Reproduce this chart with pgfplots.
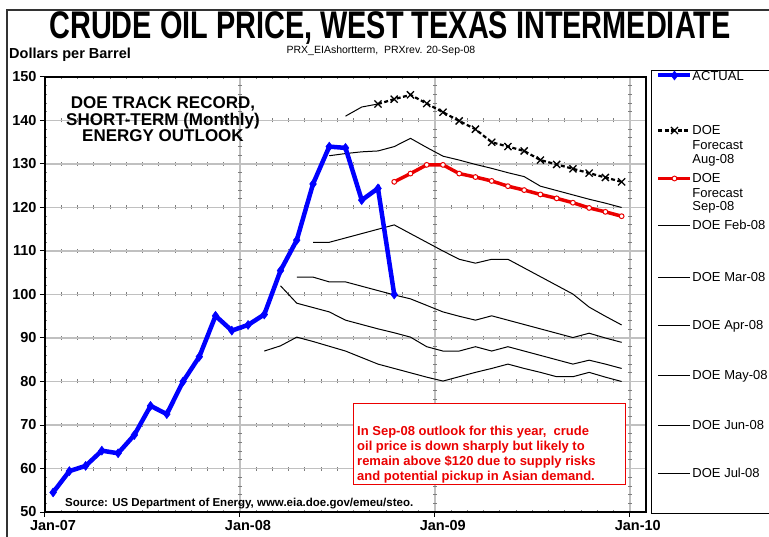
\documentclass[border=0pt]{standalone}
\usepackage{pgfplots}
\pgfplotsset{compat=1.18}
\usepackage{fontspec}
\setmainfont{Liberation Sans}
\setsansfont{Liberation Sans}

\definecolor{gridgray}{RGB}{192,192,192}
\definecolor{markgray}{RGB}{125,125,125}
\definecolor{xred}{RGB}{235,0,0}
\definecolor{xblue}{RGB}{0,0,255}

% legend image with an invisible extent above/below, so each row gets its own height
\pgfplotsset{limg/.style 2 args={legend image code/.code={%
  \path[draw=none, fill=none] (0pt,#1pt) -- (0pt,-#2pt);
  \draw[mark repeat=2,mark phase=2] plot coordinates {(0pt,0pt) (16pt,0pt) (32pt,0pt)};}}}
\newcommand{\legtext}[1]{\raisebox{-4.5pt}{#1}}
\newcommand{\threel}[3]{\parbox[t]{70pt}{\raggedright #1\\#2\\#3}}

\begin{document}
\begin{tikzpicture}[x=1pt,y=1pt]
\draw[line width=1.6pt, black!80] (7,-10) rectangle (820,-620);

\begin{axis}[
    at={(45pt,-512pt)}, anchor=south west,
    scale only axis, width=601pt, height=435pt,
    xmin=0, xmax=37, ymin=50, ymax=150,
    xtick={0,12,24,36},
    xticklabels={Jan-07,Jan-08,Jan-09,Jan-10},
    ytick={50,60,...,150},
    minor x tick num=11, minor y tick num=4,
    tick pos=left, tick align=outside,
    major tick length=5pt, minor tick length=0pt,
    tick style={black, line width=1pt},
    grid=both,
    major grid style={gridgray, line width=1.8pt},
    minor x grid style={markgray, line width=0.8pt, dash pattern=on 4pt off 39.5pt, dash phase=2pt},
    minor y grid style={markgray, line width=0.8pt, dash pattern=on 4pt off 191pt, dash phase=2pt},
    axis line style={black, line width=1.2pt},
    /pgf/number format/assume math mode=true,
    tick label style={font=\fontsize{14.5}{15}\selectfont\bfseries},
    xticklabel style={xshift=8pt},
    legend style={at={(1.0083,1.0161)}, anchor=north west, draw=black, line width=1pt,
      inner xsep=5pt, inner ysep=0pt, row sep=0pt, column sep=0pt,
      cells={anchor=base west}, nodes={inner sep=0pt},
      font=\fontsize{13}{14}\selectfont},
  ]

% earlier DOE outlooks, thin lines underneath
\addplot[black, line width=1pt, forget plot] coordinates {
  (13.5,87.0) (14.5,88.2) (15.5,90.2) (16.5,89.2) (17.5,88.1) (18.5,87.0) (19.5,85.5)
  (20.5,84.0) (21.5,83.0) (22.5,82.0) (23.5,81.0) (24.5,80.1) (25.5,81.1) (26.5,82.1)
  (27.5,83.0) (28.5,84.0) (29.5,83.0) (30.5,82.1) (31.5,81.1) (32.5,81.1) (33.5,82.1)
  (34.5,81.0) (35.5,80.0)};
\addplot[black, line width=1pt, forget plot] coordinates {
  (14.5,102.0) (15.5,98.0) (16.5,97.0) (17.5,96.0) (18.5,94.1) (19.5,93.1) (20.5,92.1)
  (21.5,91.2) (22.5,90.2) (23.5,88.0) (24.5,87.0) (25.5,87.0) (26.5,88.0) (27.5,87.0)
  (28.5,88.0) (29.5,87.0) (30.5,86.0) (31.5,85.0) (32.5,84.0) (33.5,84.9) (34.5,84.0)
  (35.5,83.0)};
\addplot[black, line width=1pt, forget plot] coordinates {
  (15.5,104.0) (16.5,104.0) (17.5,102.9) (18.5,102.9) (19.5,101.9) (20.5,100.9)
  (21.5,99.9) (22.5,99.0) (23.5,97.5) (24.5,96.0) (25.5,95.0) (26.5,94.1) (27.5,95.1)
  (28.5,94.1) (29.5,93.1) (30.5,92.1) (31.5,91.1) (32.5,90.1) (33.5,91.1) (34.5,90.0)
  (35.5,89.0)};
\addplot[black, line width=1pt, forget plot] coordinates {
  (16.5,112.0) (17.5,112.0) (18.5,113.0) (19.5,114.0) (20.5,115.0) (21.5,116.0)
  (22.5,114.0) (23.5,112.0) (24.5,110.0) (25.5,108.1) (26.5,107.2) (27.5,108.1)
  (28.5,108.1) (29.5,106.1) (30.5,104.1) (31.5,102.1) (32.5,100.1) (33.5,97.1)
  (34.5,95.0) (35.5,93.0)};
\addplot[black, line width=1pt, forget plot] coordinates {
  (17.5,131.9) (18.5,132.4) (19.5,132.8) (20.5,133.0) (21.5,134.0) (22.5,135.9)
  (23.5,133.8) (24.5,131.8) (25.5,130.9) (26.5,129.9) (27.5,129.0) (28.5,128.0)
  (29.5,127.1) (30.5,124.9) (31.5,123.9) (32.5,122.9) (33.5,121.9) (34.5,121.0)
  (35.5,120.0)};
\addplot[black, line width=1pt, forget plot] coordinates {
  (18.5,141.0) (19.5,143.1) (20.5,143.8)};

\addlegendimage{xblue, line width=4pt, mark=diamond*, mark size=4.5pt, mark options={solid, line width=0.5pt}, limg={5}{49}}
\addlegendentry{\legtext{ACTUAL}}

\addplot[black, line width=2.2pt, dash pattern=on 4pt off 2.5pt, mark=x, mark size=5pt,
  mark options={solid, line width=1.3pt}, limg={6}{42}] coordinates {
  (20.5,143.8) (21.5,144.9) (22.5,145.9) (23.5,143.9) (24.5,141.9) (25.5,139.9)
  (26.5,138.0) (27.5,135.0) (28.5,134.0) (29.5,133.0) (30.5,130.9) (31.5,129.9)
  (32.5,128.9) (33.5,127.9) (34.5,126.9) (35.5,125.9)};
\addlegendentry{\legtext{\threel{DOE}{Forecast}{Aug-08}}}

\addplot[xred, line width=3.5pt, mark=*, mark size=2.4pt,
  mark options={solid, fill=white, draw=xred, line width=1pt}, limg={6}{41}] coordinates {
  (21.5,125.9) (22.5,127.8) (23.5,129.8) (24.5,129.8) (25.5,127.8) (26.5,127.0)
  (27.5,126.1) (28.5,124.9) (29.5,124.0) (30.5,123.0) (31.5,122.1) (32.5,121.1)
  (33.5,119.9) (34.5,119.0) (35.5,118.0)};
\addlegendentry{\legtext{\threel{DOE}{Forecast}{Sep-08}}}

\addlegendimage{black, line width=1pt, limg={6}{46}}
\addlegendentry{\legtext{DOE Feb-08}}
\addlegendimage{black, line width=1pt, limg={6}{42}}
\addlegendentry{\legtext{DOE Mar-08}}
\addlegendimage{black, line width=1pt, limg={6}{44}}
\addlegendentry{\legtext{DOE Apr-08}}
\addlegendimage{black, line width=1pt, limg={6}{44}}
\addlegendentry{\legtext{DOE May-08}}
\addlegendimage{black, line width=1pt, limg={6}{42}}
\addlegendentry{\legtext{DOE Jun-08}}
\addlegendimage{black, line width=1pt, limg={6}{40}}
\addlegendentry{\legtext{DOE Jul-08}}

% actual prices on top
\addplot[xblue, line width=4.5pt, mark=diamond*, mark size=4.5pt,
  mark options={solid, line width=0.5pt}, forget plot] coordinates {
  (0.5,54.5) (1.5,59.4) (2.5,60.6) (3.5,64.1) (4.5,63.5) (5.5,67.7) (6.5,74.4)
  (7.5,72.5) (8.5,80.0) (9.5,85.7) (10.5,95.1) (11.5,91.7) (12.5,93.0) (13.5,95.4)
  (14.5,105.5) (15.5,112.5) (16.5,125.4) (17.5,134.0) (18.5,133.7) (19.5,121.7)
  (20.5,124.4) (21.5,100.0)};
\end{axis}

\node[anchor=base] at (390,-38.5) {\scalebox{0.75}[1]{\fontsize{38.5}{40}\selectfont\bfseries CRUDE OIL PRICE, WEST TEXAS INTERMEDIATE}};
\node[anchor=base west, inner sep=0pt] at (9,-58.5) {\fontsize{14.5}{15}\selectfont\bfseries Dollars per Barrel};
\node[anchor=base, inner sep=0pt] at (381,-54) {\fontsize{10.5}{12}\selectfont PRX\_EIAshortterm,\ \ PRXrev. 20-Sep-08};
\node[anchor=base, inner sep=0pt] at (163,-109) {\parbox[t]{250pt}{\centering\fontsize{17}{16.3}\selectfont\bfseries
  DOE TRACK RECORD,\\SHORT-TERM (Monthly)\\ENERGY OUTLOOK}};
\node[anchor=base west, inner sep=0pt] at (65,-506) {\fontsize{11.5}{12}\selectfont\bfseries Source: US Department of Energy, www.eia.doe.gov/emeu/steo.};
\draw[xred, fill=white, line width=1pt] (353,-404) rectangle (625,-484);
\node[anchor=base west, inner sep=0pt] at (357,-425.7) {\parbox[t]{265pt}{\raggedright\fontsize{13}{15}\selectfont\bfseries\color{xred}
  In Sep-08 outlook for this year,\ \ crude\\oil price is down sharply but likely to\\remain above \$120 due to supply risks\\and potential pickup in Asian demand.}};

\pgfresetboundingbox
\path[use as bounding box] (0,0) rectangle (769,-537);
\end{tikzpicture}
\end{document}
